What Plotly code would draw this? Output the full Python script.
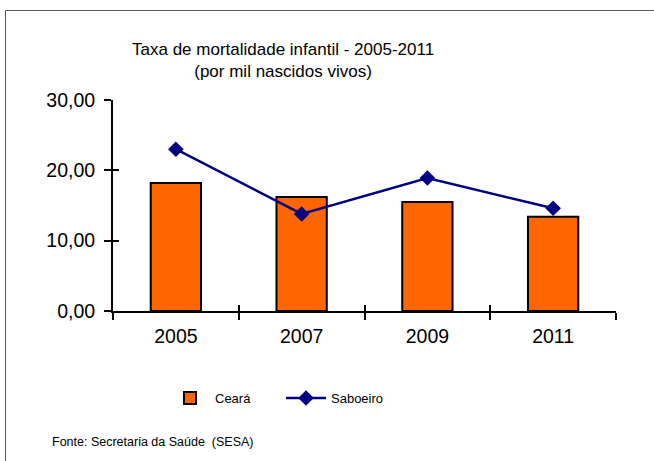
import plotly.graph_objects as go

years = ["2005", "2007", "2009", "2011"]
ceara = [18.2, 16.2, 15.5, 13.4]
saboeiro = [23.0, 13.8, 18.9, 14.6]
y_ticks = [0, 10, 20, 30]
y_tick_text = ["0,00", "10,00", "20,00", "30,00"]

W, H = 654, 461
L, R, T, B = 113, 38, 100, 150
pw, ph = W - L - R, H - T - B

def px_x(px):
    return (px - L) / pw

def px_y(py):
    return (H - B - py) / ph

FONT = "Liberation Sans, Arial, sans-serif"

fig = go.Figure()
fig.add_trace(go.Bar(
    x=years, y=ceara, name="Ceará", width=0.4,
    marker=dict(color="#FF6600", line=dict(color="black", width=2)),
))
fig.add_trace(go.Scatter(
    x=years, y=saboeiro, name="Saboeiro", mode="lines+markers",
    line=dict(color="#000080", width=2.5),
    marker=dict(symbol="diamond", size=12, color="#000080"),
))
# helper trace for inner half of cross ticks
fig.add_trace(go.Scatter(x=[None], y=[None], xaxis="x2", yaxis="y2",
                         showlegend=False, hoverinfo="skip"))

fig.update_layout(
    width=W, height=H,
    margin=dict(l=L, r=R, t=T, b=B),
    paper_bgcolor="white", plot_bgcolor="white",
    separators=",.",
    font=dict(family=FONT, color="black"),
    showlegend=True,
    legend=dict(orientation="h", x=px_x(165), y=px_y(398), xanchor="left",
                yanchor="middle", font=dict(size=13, family=FONT),
                itemwidth=40, entrywidth=61, entrywidthmode="pixels",
                tracegroupgap=0, bgcolor="rgba(0,0,0,0)"),
    xaxis=dict(type="category", categoryarray=years, range=[-0.5, 3.5],
               showline=True, linecolor="black", linewidth=2,
               ticks="outside", ticklen=7, tickwidth=2, tickcolor="black",
               tickson="boundaries", showgrid=False, zeroline=False,
               ticklabelstandoff=7,
               tickfont=dict(size=19.5, family=FONT)),
    yaxis=dict(range=[0, 30], tickvals=y_ticks, ticktext=y_tick_text,
               showline=True, linecolor="black", linewidth=2,
               ticks="outside", ticklen=7, tickwidth=2, tickcolor="black",
               showgrid=False, zeroline=False, ticklabelstandoff=5,
               tickfont=dict(size=19.5, family=FONT)),
    xaxis2=dict(overlaying="x", anchor="y2", range=[-0.5, 3.5],
                tickvals=[-0.5, 0.5, 1.5, 2.5, 3.5], ticks="inside",
                ticklen=6, tickwidth=2, tickcolor="black",
                showticklabels=False, showline=False, showgrid=False,
                zeroline=False, side="bottom"),
    yaxis2=dict(overlaying="y", anchor="x2", range=[0, 30], side="left",
                tickvals=y_ticks, ticks="inside", ticklen=6, tickwidth=2,
                tickcolor="black", showticklabels=False, showline=False,
                showgrid=False, zeroline=False),
    annotations=[
        dict(text="Taxa de mortalidade infantil - 2005-2011<br>(por mil nascidos vivos)",
             x=px_x(283), y=px_y(61), xref="paper", yref="paper",
             showarrow=False, font=dict(size=17, family=FONT),
             xanchor="center", yanchor="middle"),
        dict(text="Fonte: Secretaria da Saúde  (SESA)",
             x=px_x(50), y=px_y(442), xref="paper", yref="paper",
             showarrow=False, font=dict(size=12.5, family=FONT),
             xanchor="left", yanchor="middle"),
    ],
    shapes=[
        dict(type="line", xref="paper", yref="paper",
             x0=px_x(5.5), x1=px_x(5.5), y0=px_y(10.5), y1=px_y(470),
             line=dict(color="#555555", width=1)),
        dict(type="line", xref="paper", yref="paper",
             x0=px_x(5.5), x1=px_x(660), y0=px_y(10.5), y1=px_y(10.5),
             line=dict(color="#555555", width=1)),
    ],
)

fig.write_html("out.html", config={"displayModeBar": False},
               post_script="document.body.style.margin='0px';")
